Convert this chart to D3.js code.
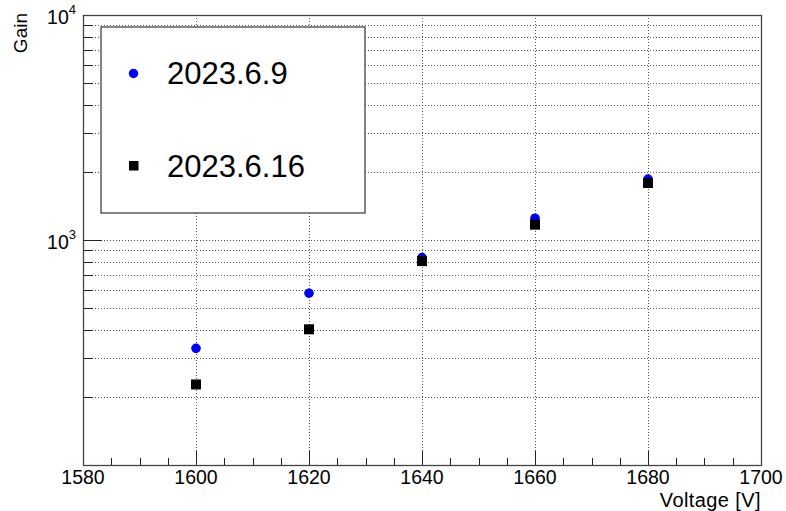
<!DOCTYPE html>
<html>
<head>
<meta charset="utf-8">
<script src="https://cdn.jsdelivr.net/npm/d3@7"></script>
<style>
  body { margin: 0; background: #fff; }
  text { font-family: "Liberation Sans", Arial, Helvetica, sans-serif; fill: #000; }
</style>
</head>
<body>
<script>
// data
var voltage = [1600, 1620, 1640, 1660, 1680];
var gain0609 = [330, 580, 835, 1250, 1865];
var gain0616 = [228, 401, 806, 1170, 1792];
var seriesNames = ["2023.6.9", "2023.6.16"];

// axis ticks
var xMajor = [1580, 1600, 1620, 1640, 1660, 1680, 1700];
var xMinor = d3.range(1585, 1700, 5).filter(function(d) { return d % 20 != 0; });
var yMajor = [100, 1000, 10000];
var yMajorLabel = [{v: 1000, e: "3"}, {v: 10000, e: "4"}];
var yMinor = [200, 300, 400, 500, 600, 700, 800, 900,
              2000, 3000, 4000, 5000, 6000, 7000, 8000, 9000];

var width = 786, height = 511;
var margin = {top: 15, right: 25, bottom: 46, left: 83};

var svg = d3.select("body")
            .append("svg")
            .attr("width", width)
            .attr("height", height);

var xScale = d3.scaleLinear()
  .domain([1580, 1700])
  .range([margin.left, width - margin.right]);

var yScale = d3.scaleLog()
  .domain([100, 10000])
  .range([height - margin.bottom, margin.top]);

var x0 = xScale.range()[0], x1 = xScale.range()[1];
var yB = yScale.range()[0], yT = yScale.range()[1];

// grid lines
svg.append("g")
  .selectAll("line")
  .data(yMinor.concat([1000]))
  .enter()
  .append("line")
  .attr("x1", x0)
  .attr("x2", x1)
  .attr("y1", function(d) { return Math.round(yScale(d)) + 0.5; })
  .attr("y2", function(d) { return Math.round(yScale(d)) + 0.5; })
  .attr("stroke", "#555")
  .attr("stroke-dasharray", "1,2");

svg.append("g")
  .selectAll("line")
  .data(xMajor.slice(1, -1))
  .enter()
  .append("line")
  .attr("x1", function(d) { return Math.round(xScale(d)) + 0.5; })
  .attr("x2", function(d) { return Math.round(xScale(d)) + 0.5; })
  .attr("y1", yT)
  .attr("y2", yB)
  .attr("stroke", "#555")
  .attr("stroke-dasharray", "1,2");

// ticks
var ticks = svg.append("g").attr("stroke", "#222").attr("stroke-width", 1);

ticks.selectAll(".xmaj")
  .data(xMajor)
  .enter()
  .append("line")
  .attr("x1", function(d) { return Math.round(xScale(d)) + 0.5; })
  .attr("x2", function(d) { return Math.round(xScale(d)) + 0.5; })
  .attr("y1", yB)
  .attr("y2", yB - 14);

ticks.selectAll(".xmin")
  .data(xMinor)
  .enter()
  .append("line")
  .attr("x1", function(d) { return Math.round(xScale(d)) + 0.5; })
  .attr("x2", function(d) { return Math.round(xScale(d)) + 0.5; })
  .attr("y1", yB)
  .attr("y2", yB - 7);

ticks.selectAll(".ymaj")
  .data(yMajor)
  .enter()
  .append("line")
  .attr("x1", x0)
  .attr("x2", x0 + 19)
  .attr("y1", function(d) { return Math.round(yScale(d)) + 0.5; })
  .attr("y2", function(d) { return Math.round(yScale(d)) + 0.5; });

ticks.selectAll(".ymin")
  .data(yMinor)
  .enter()
  .append("line")
  .attr("x1", x0)
  .attr("x2", x0 + 10)
  .attr("y1", function(d) { return Math.round(yScale(d)) + 0.5; })
  .attr("y2", function(d) { return Math.round(yScale(d)) + 0.5; });

// frame
svg.append("rect")
  .attr("x", x0 + 0.5)
  .attr("y", yT + 0.5)
  .attr("width", x1 - x0)
  .attr("height", yB - yT)
  .attr("fill", "none")
  .attr("stroke", "#444")
  .attr("stroke-width", 1.3);

// x labels
svg.append("g")
  .selectAll("text")
  .data(xMajor)
  .enter()
  .append("text")
  .attr("x", function(d) { return xScale(d); })
  .attr("y", yB + 19)
  .attr("text-anchor", "middle")
  .style("font-size", "19.5px")
  .text(function(d) { return d; });

// y labels, 10^n
var yl = svg.append("g")
  .selectAll("text")
  .data(yMajorLabel)
  .enter()
  .append("text")
  .attr("x", 76)
  .attr("y", function(d) { return yScale(d.v) + 9; })
  .attr("text-anchor", "end")
  .style("font-size", "19.5px");
yl.append("tspan").text("10");
yl.append("tspan")
  .attr("dy", -10)
  .style("font-size", "13px")
  .text(function(d) { return d.e; });

// axis titles
svg.append("text")
  .attr("x", x1)
  .attr("y", 506.5)
  .attr("text-anchor", "end")
  .style("font-size", "20px")
  .style("letter-spacing", "0.4px")
  .text("Voltage [V]");

svg.append("text")
  .attr("transform", "translate(27,13) rotate(-90)")
  .attr("text-anchor", "end")
  .style("font-size", "19px")
  .text("Gain");

// points
svg.append("g")
  .selectAll("circle")
  .data(voltage)
  .enter()
  .append("circle")
  .attr("cx", function(d) { return xScale(d); })
  .attr("cy", function(d, i) { return yScale(gain0609[i]); })
  .attr("r", 4.8)
  .attr("fill", "#0000ff");

svg.append("g")
  .selectAll("rect")
  .data(voltage)
  .enter()
  .append("rect")
  .attr("x", function(d) { return xScale(d) - 5; })
  .attr("y", function(d, i) { return yScale(gain0616[i]) - 5; })
  .attr("width", 10)
  .attr("height", 10)
  .attr("fill", "#000");

// legend
var legend = svg.append("g");
legend.append("rect")
  .attr("x", 101)
  .attr("y", 27)
  .attr("width", 264)
  .attr("height", 186)
  .attr("fill", "#fff")
  .attr("stroke", "#333")
  .attr("stroke-width", 1.2);

legend.append("circle")
  .attr("cx", 133.5)
  .attr("cy", 73.5)
  .attr("r", 4.7)
  .attr("fill", "#0000ff");

legend.append("rect")
  .attr("x", 129)
  .attr("y", 161)
  .attr("width", 9.5)
  .attr("height", 9.5)
  .attr("fill", "#000");

legend.selectAll("text")
  .data(seriesNames)
  .enter()
  .append("text")
  .attr("x", 167)
  .attr("y", function(d, i) { return i == 0 ? 84 : 176.5; })
  .style("font-size", "31px")
  .text(function(d) { return d; });
</script>
</body>
</html>
